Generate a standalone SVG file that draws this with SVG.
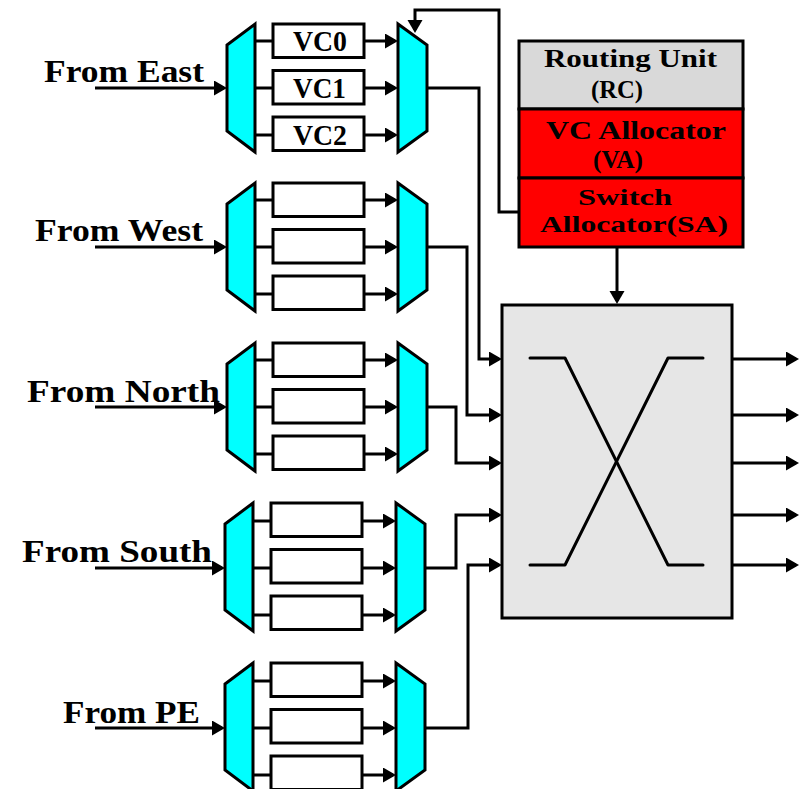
<svg xmlns="http://www.w3.org/2000/svg" width="805" height="789" viewBox="0 0 805 789">
<defs>
<style>
.lbl{font-family:"Liberation Serif","Times New Roman",serif;font-weight:bold;fill:#000;}
.big{font-size:32px;}
.vc{font-size:29px;}
.unit{font-size:26px;}
.sa{font-size:24px;}
.ln{stroke:#000;stroke-width:3;fill:none;}
.arr{stroke:#000;stroke-width:3;fill:none;marker-end:url(#ah);}
.mux{fill:#00ffff;stroke:#000;stroke-width:3;stroke-linejoin:miter;}
.buf{fill:#fff;stroke:#000;stroke-width:3;}
</style>
<marker id="ah" markerUnits="userSpaceOnUse" markerWidth="14" markerHeight="16" refX="10" refY="7.5" orient="auto" viewBox="0 0 14 16">
<path d="M0,0 L13,7.5 L0,15 z" fill="#000"/>
</marker>
</defs>
<rect width="805" height="789" fill="#fff"/>

<!-- Input port blocks -->
<g id="port-east">
<polygon class="mux" points="227,45 255,24 255,152 227,131"/>
<rect class="buf" x="273" y="24" width="91" height="33.5"/>
<rect class="buf" x="273" y="70.5" width="91" height="33.5"/>
<rect class="buf" x="273" y="117" width="91" height="33.5"/>
<polygon class="mux" points="398,24 427,45 427,131 398,152"/>
<text class="lbl vc" x="293" y="51" textLength="54" lengthAdjust="spacingAndGlyphs">VC0</text>
<text class="lbl vc" x="293" y="98" textLength="53" lengthAdjust="spacingAndGlyphs">VC1</text>
<text class="lbl vc" x="293" y="145" textLength="54" lengthAdjust="spacingAndGlyphs">VC2</text>
<text class="lbl big" x="44" y="82" textLength="160" lengthAdjust="spacingAndGlyphs">From East</text>
</g>
<g id="port-west">
<polygon class="mux" points="227,204 255,183 255,311 227,290"/>
<rect class="buf" x="273" y="183" width="91" height="33.5"/>
<rect class="buf" x="273" y="229.5" width="91" height="33.5"/>
<rect class="buf" x="273" y="276" width="91" height="33.5"/>
<polygon class="mux" points="398,183 427,204 427,290 398,311"/>
<text class="lbl big" x="35" y="241" textLength="168" lengthAdjust="spacingAndGlyphs">From West</text>
</g>
<g id="port-north">
<polygon class="mux" points="227,364 255,343 255,471 227,450"/>
<rect class="buf" x="273" y="343" width="91" height="33.5"/>
<rect class="buf" x="273" y="389.5" width="91" height="33.5"/>
<rect class="buf" x="273" y="436" width="91" height="33.5"/>
<polygon class="mux" points="398,343 427,364 427,450 398,471"/>
<text class="lbl big" x="27" y="402" textLength="193" lengthAdjust="spacingAndGlyphs">From North</text>
</g>
<g id="port-south">
<polygon class="mux" points="225,524 253,503 253,631 225,610"/>
<rect class="buf" x="271" y="503" width="91" height="33.5"/>
<rect class="buf" x="271" y="549.5" width="91" height="33.5"/>
<rect class="buf" x="271" y="596" width="91" height="33.5"/>
<polygon class="mux" points="396,503 425,524 425,610 396,631"/>
<text class="lbl big" x="22" y="562" textLength="190" lengthAdjust="spacingAndGlyphs">From South</text>
</g>
<g id="port-pe">
<polygon class="mux" points="225,684 253,663 253,791 225,770"/>
<rect class="buf" x="271" y="663" width="91" height="33.5"/>
<rect class="buf" x="271" y="709.5" width="91" height="33.5"/>
<rect class="buf" x="271" y="756" width="91" height="33.5"/>
<polygon class="mux" points="396,663 425,684 425,770 396,791"/>
<text class="lbl big" x="63" y="723" textLength="137" lengthAdjust="spacingAndGlyphs">From PE</text>
</g>

<!-- Control units -->
<g id="routing-unit">
<rect x="519" y="41" width="224" height="68" fill="#d9d9d9" stroke="#000" stroke-width="3"/>
<text class="lbl unit" x="544" y="67" textLength="173" lengthAdjust="spacingAndGlyphs">Routing Unit</text>
<text class="lbl unit" x="591" y="98" textLength="52" lengthAdjust="spacingAndGlyphs">(RC)</text>
</g>
<g id="vc-allocator">
<rect x="519" y="109" width="224" height="69" fill="#ff0000" stroke="#000" stroke-width="3"/>
<text class="lbl unit" x="546" y="139" textLength="180" lengthAdjust="spacingAndGlyphs">VC Allocator</text>
<text class="lbl unit" x="593" y="168" textLength="50" lengthAdjust="spacingAndGlyphs">(VA)</text>
</g>
<g id="switch-allocator">
<rect x="519" y="178" width="224" height="69" fill="#ff0000" stroke="#000" stroke-width="3"/>
<text class="lbl sa" x="578" y="205" textLength="94" lengthAdjust="spacingAndGlyphs">Switch</text>
<text class="lbl sa" x="540" y="232" textLength="188" lengthAdjust="spacingAndGlyphs">Allocator(SA)</text>
</g>

<!-- Crossbar -->
<g id="crossbar">
<rect x="502" y="305" width="230" height="313" fill="#e6e6e6" stroke="#000" stroke-width="3"/>
<polyline class="ln" points="530,358 565,358 668,565 703,565" stroke-linecap="round" stroke-linejoin="round"/>
<polyline class="ln" points="530,565 565,565 668,358 703,358" stroke-linecap="round" stroke-linejoin="round"/>
</g>

<!-- Connectors -->
<g id="connectors">
<line class="arr" x1="95" y1="88" x2="224" y2="88"/>
<line class="arr" x1="95" y1="247" x2="224" y2="247"/>
<line class="arr" x1="95" y1="407" x2="224" y2="407"/>
<line class="arr" x1="95" y1="568" x2="222" y2="568"/>
<line class="arr" x1="95" y1="728" x2="222" y2="728"/>
<line class="ln" x1="255" y1="41" x2="273" y2="41"/>
<line class="ln" x1="255" y1="88" x2="273" y2="88"/>
<line class="ln" x1="255" y1="135" x2="273" y2="135"/>
<line class="ln" x1="255" y1="200" x2="273" y2="200"/>
<line class="ln" x1="255" y1="247" x2="273" y2="247"/>
<line class="ln" x1="255" y1="294" x2="273" y2="294"/>
<line class="ln" x1="255" y1="360" x2="273" y2="360"/>
<line class="ln" x1="255" y1="407" x2="273" y2="407"/>
<line class="ln" x1="255" y1="454" x2="273" y2="454"/>
<line class="ln" x1="253" y1="521" x2="271" y2="521"/>
<line class="ln" x1="253" y1="568" x2="271" y2="568"/>
<line class="ln" x1="253" y1="615" x2="271" y2="615"/>
<line class="ln" x1="253" y1="681" x2="271" y2="681"/>
<line class="ln" x1="253" y1="728" x2="271" y2="728"/>
<line class="ln" x1="253" y1="775" x2="271" y2="775"/>
<line class="arr" x1="364" y1="41" x2="395" y2="41"/>
<line class="arr" x1="364" y1="88" x2="395" y2="88"/>
<line class="arr" x1="364" y1="135" x2="395" y2="135"/>
<line class="arr" x1="364" y1="200" x2="395" y2="200"/>
<line class="arr" x1="364" y1="247" x2="395" y2="247"/>
<line class="arr" x1="364" y1="294" x2="395" y2="294"/>
<line class="arr" x1="364" y1="360" x2="395" y2="360"/>
<line class="arr" x1="364" y1="407" x2="395" y2="407"/>
<line class="arr" x1="364" y1="454" x2="395" y2="454"/>
<line class="arr" x1="362" y1="521" x2="393" y2="521"/>
<line class="arr" x1="362" y1="568" x2="393" y2="568"/>
<line class="arr" x1="362" y1="615" x2="393" y2="615"/>
<line class="arr" x1="362" y1="681" x2="393" y2="681"/>
<line class="arr" x1="362" y1="728" x2="393" y2="728"/>
<line class="arr" x1="362" y1="775" x2="393" y2="775"/>
<polyline class="arr" points="427,88 479,88 479,359 499,359"/>
<polyline class="arr" points="427,247 467,247 467,415 499,415"/>
<polyline class="arr" points="427,407 456,407 456,463 499,463"/>
<polyline class="arr" points="425,568 456,568 456,515 499,515"/>
<polyline class="arr" points="425,728 468,728 468,565 499,565"/>
<line class="arr" x1="732" y1="359" x2="796" y2="359"/>
<line class="arr" x1="732" y1="415" x2="796" y2="415"/>
<line class="arr" x1="732" y1="463" x2="796" y2="463"/>
<line class="arr" x1="732" y1="515" x2="796" y2="515"/>
<line class="arr" x1="732" y1="565" x2="796" y2="565"/>
<polyline class="arr" points="518,212 499,212 499,10 415,10 415,30"/>
<line class="arr" x1="617" y1="248" x2="617" y2="301"/>
</g>
</svg>
